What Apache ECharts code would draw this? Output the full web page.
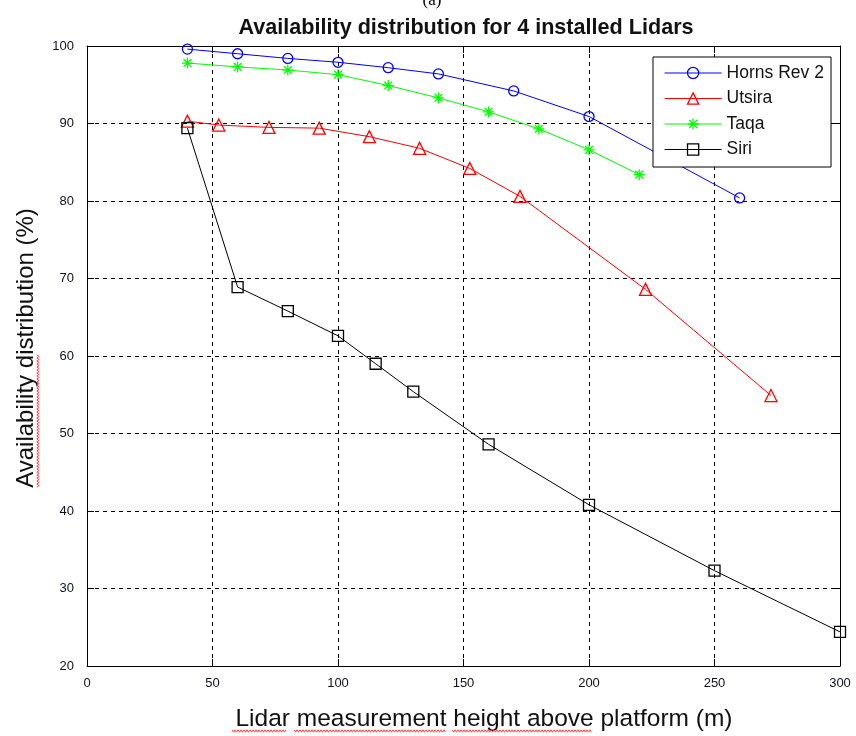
<!DOCTYPE html>
<html>
<head>
<meta charset="utf-8">
<script src="https://cdn.jsdelivr.net/npm/echarts@6/dist/echarts.min.js"></script>
<style>html,body{margin:0;padding:0;background:#fff}#c{width:856px;height:736px}</style>
</head>
<body>
<div id="c"></div>
<script>
// ---- data ----
var hornsX = [40, 60, 80, 100, 120, 140, 170, 200, 260];
var hornsY = [99.6, 99.0, 98.4, 97.9, 97.2, 96.4, 94.2, 90.9, 80.4];
var utsiraX = [40, 52.5, 72.5, 92.5, 112.5, 132.5, 152.5, 172.5, 222.5, 272.5];
var utsiraY = [90.3, 89.8, 89.5, 89.4, 88.3, 86.8, 84.2, 80.6, 68.6, 54.9];
var taqaX = [40, 60, 80, 100, 120, 140, 160, 180, 200, 220];
var taqaY = [97.8, 97.3, 96.9, 96.3, 94.9, 93.3, 91.5, 89.3, 86.6, 83.4];
var siriX = [40, 60, 80, 100, 115, 130, 160, 200, 250, 300];
var siriY = [89.4, 68.9, 65.8, 62.6, 59.0, 55.4, 48.6, 40.8, 32.3, 24.4];
var seriesNames = ['Horns Rev 2', 'Utsira', 'Taqa', 'Siri'];
var titleText = 'Availability distribution for 4 installed Lidars';
var xName = 'Lidar measurement height above platform (m)';
var yName = 'Availability distribution (%)';

function pairs(xs, ys) { return xs.map(function (x, i) { return [x, ys[i]]; }); }

// decorative red spell-check wavy underline
function wavy(a0, a1, c, vertical) {
  var pts = [], k = 0;
  for (var a = a0; a <= a1; a += 1.5, k++) {
    var off = (k % 2 === 0) ? -1.2 : 1.2;
    pts.push(vertical ? [c + off, a] : [a, c + off]);
  }
  return { type: 'polyline', shape: { points: pts }, z: 11, silent: true,
           style: { stroke: '#ff3030', lineWidth: 0.9, fill: null } };
}

var chart = echarts.init(document.getElementById('c'), null, { renderer: 'canvas' });
var tickFont = { fontFamily: 'Liberation Sans', fontSize: 13, color: '#101020' };
var gridDash = { type: [4, 4], color: '#000', width: 1 };
var star = 'path://M0,-10L0,10M-10,0L10,0M-7,-7L7,7M-7,7L7,-7';

function mkSeries(name, xs, ys, color, symbol, size) {
  return {
    name: name, type: 'line', data: pairs(xs, ys),
    symbol: symbol, symbolSize: size, showAllSymbol: true,
    lineStyle: { color: color, width: 1 },
    itemStyle: { color: 'transparent', borderColor: color, borderWidth: 1.3 },
    emphasis: { disabled: true }, animation: false, z: 3
  };
}

var option = {
  animation: false,
  backgroundColor: '#fff',
  title: {
    text: titleText, left: 461, top: 12, textAlign: 'center',
    textStyle: { fontFamily: 'Liberation Sans', fontWeight: 'bold', fontSize: 21.6, color: '#111' }
  },
  grid: { left: 87, right: 16, top: 46, bottom: 70, containLabel: false },
  legend: {
    data: seriesNames, orient: 'vertical', left: 664, top: 64,
    padding: 0, itemWidth: 57, itemHeight: 14, itemGap: 7.5,
    textStyle: { fontFamily: 'Liberation Sans', fontSize: 17.5, lineHeight: 18, color: '#111' },
    itemStyle: { borderWidth: 1.3 },
    lineStyle: { width: 1.2 },
    z: 20
  },
  xAxis: [{
    type: 'value', min: 0, max: 300, interval: 50, position: 'bottom',
    axisLine: { onZero: false, lineStyle: { color: '#000', width: 1 } },
    axisTick: { inside: true, length: 7, lineStyle: { color: '#000' } },
    axisLabel: Object.assign({ margin: 11 }, tickFont),
    splitLine: { show: true, lineStyle: gridDash }
  }, {
    type: 'value', min: 0, max: 300, interval: 50, position: 'top',
    axisLine: { onZero: false, lineStyle: { color: '#000', width: 1 } },
    axisTick: { inside: true, length: 7, lineStyle: { color: '#000' } },
    axisLabel: { show: false }, splitLine: { show: false }
  }],
  yAxis: [{
    type: 'value', min: 20, max: 100, interval: 10, position: 'left',
    axisLine: { show: true, onZero: false, lineStyle: { color: '#000', width: 1 } },
    axisTick: { show: true, inside: true, length: 7, lineStyle: { color: '#000' } },
    axisLabel: Object.assign({ margin: 13 }, tickFont),
    splitLine: { show: true, lineStyle: gridDash }
  }, {
    type: 'value', min: 20, max: 100, interval: 10, position: 'right',
    axisLine: { show: true, onZero: false, lineStyle: { color: '#000', width: 1 } },
    axisTick: { show: true, inside: true, length: 7, lineStyle: { color: '#000' } },
    axisLabel: { show: false }, splitLine: { show: false }
  }],
  graphic: [
    { type: 'rect', shape: { x: 653, y: 57, width: 178, height: 110 },
      style: { fill: '#fff', stroke: '#000', lineWidth: 1 }, z: 10, silent: true },
    { type: 'text', x: 432, y: 9, z: 10, silent: true,
      style: { text: '(a)', font: '17px "Liberation Serif"', fill: '#000', align: 'center', verticalAlign: 'bottom' } },
    { type: 'text', x: 484, y: 719, z: 10, silent: true,
      style: { text: xName, font: '24.5px "Liberation Sans"', fill: '#111', align: 'center', verticalAlign: 'middle' } },
    { type: 'text', x: 26.5, y: 348, rotation: Math.PI / 2, z: 10, silent: true,
      style: { text: yName, font: '24px "Liberation Sans"', fill: '#111', align: 'center', verticalAlign: 'middle' } },
    wavy(232, 287, 731, false),
    wavy(294, 446, 731, false),
    wavy(452, 592, 731, false),
    wavy(355, 487, 38, true)
  ],
  series: [
    mkSeries(seriesNames[0], hornsX, hornsY, '#0000ff', 'circle', 10),
    mkSeries(seriesNames[1], utsiraX, utsiraY, '#ff0000', 'triangle', 12),
    mkSeries(seriesNames[2], taqaX, taqaY, '#00ff00', star, 11),
    mkSeries(seriesNames[3], siriX, siriY, '#000000', 'rect', 11)
  ]
};
chart.setOption(option);
</script>
</body>
</html>
